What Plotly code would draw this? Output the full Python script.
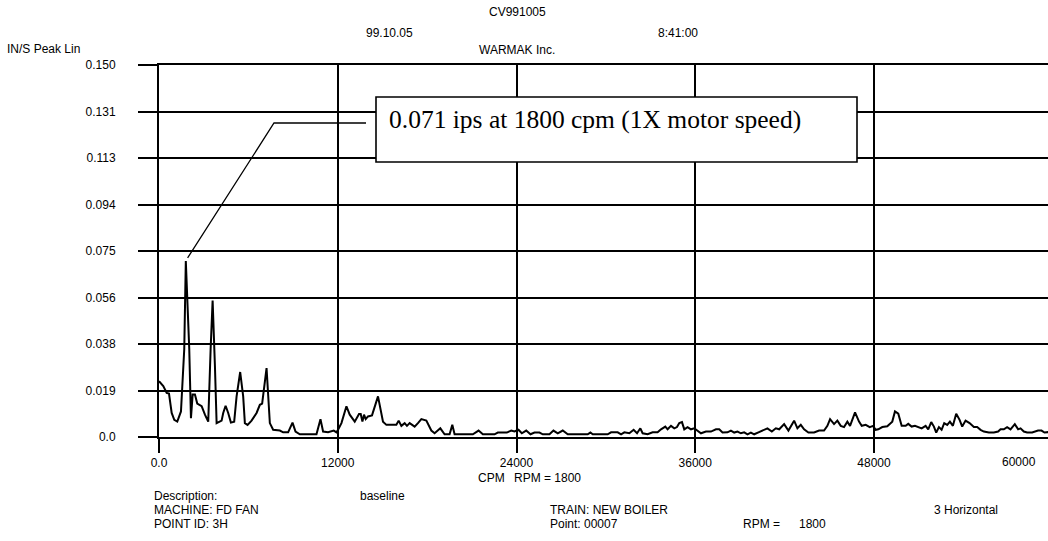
import plotly.graph_objects as go

# Spectrum: frequency (CPM) and velocity amplitude (IN/S peak)
cpm = [0, 288, 516, 670, 851, 1026, 1227, 1475, 1696, 1800, 2031, 2145, 2259, 2413, 2568,
       2863, 3084, 3305, 3466, 3600, 3754, 3868, 4203, 4311, 4471, 4646, 4827, 5048, 5209,
       5450, 5651, 5765, 5946, 6214, 6550, 6771, 6925, 7106, 7220, 7441, 7663, 8112, 8333,
       8668, 8963, 9164, 9453, 10572, 10840, 11015, 11350, 11732, 11913, 12020, 12248, 12583,
       12805, 13140, 13428, 13542, 13656, 13763, 13877, 14031, 14300, 14702, 14930, 15037,
       15265, 15935, 16090, 16271, 16492, 16646, 16827, 17162, 17384, 17612, 17947, 18282,
       18503, 18885, 19173, 19508, 19690, 19843, 20179, 21071, 21453, 21741, 22525, 22747,
       23350, 23645, 23866, 24134, 24356, 24651, 24939, 25207, 25542, 25764, 26213, 26481,
       26769, 27104, 27439, 28780, 28961, 29116, 30121, 30349, 30792, 31020, 31241, 31576,
       31864, 32092, 32314, 32468, 32803, 33138, 33474, 33702, 33990, 34144, 34372, 34593,
       34774, 34928, 35109, 35263, 35484, 35712, 35933, 36155, 36383, 36718, 37053, 37388,
       37609, 37831, 38166, 38394, 38615, 38836, 39064, 39285, 39507, 39735, 39956, 40244,
       40512, 40847, 41142, 41411, 41638, 41967, 42255, 42637, 42858, 43086, 43307, 43596,
       43978, 44313, 44648, 44870, 45051, 45319, 45540, 45768, 45989, 46211, 46392, 46727,
       46995, 47176, 47444, 47712, 47934, 48115, 48289, 48557, 48892, 49227, 49408, 49630,
       49857, 50126, 50300, 50528, 50749, 50970, 51198, 51466, 51641, 51842, 52023, 52177,
       52358, 52539, 52714, 52915, 53096, 53297, 53518, 53746, 53921, 54148, 54416, 54705,
       54926, 55154, 55375, 55710, 56045, 56334, 56495, 56716, 56937, 57165, 57453, 57675,
       57836, 58058, 58279, 58614, 58795, 59016, 59245, 59446, 59730]
amp = [0.0225, 0.0205, 0.0178, 0.0175, 0.0097, 0.0069, 0.0062, 0.0103, 0.0355, 0.0710, 0.0355,
       0.0076, 0.0171, 0.0171, 0.0135, 0.0124, 0.0090, 0.0062, 0.0355, 0.0550, 0.0287, 0.0056,
       0.0066, 0.0097, 0.0126, 0.0097, 0.0058, 0.0062, 0.0164, 0.0262, 0.0164, 0.0056, 0.0049,
       0.0066, 0.0097, 0.0130, 0.0135, 0.0212, 0.0278, 0.0056, 0.0029, 0.0026, 0.0019, 0.0019,
       0.0058, 0.0022, 0.0011, 0.0011, 0.0072, 0.0022, 0.0019, 0.0026, 0.0019, 0.0029, 0.0056,
       0.0124, 0.0090, 0.0062, 0.0093, 0.0093, 0.0062, 0.0090, 0.0072, 0.0083, 0.0087, 0.0164,
       0.0103, 0.0062, 0.0049, 0.0049, 0.0066, 0.0045, 0.0056, 0.0045, 0.0056, 0.0042, 0.0056,
       0.0072, 0.0066, 0.0026, 0.0015, 0.0035, 0.0011, 0.0011, 0.0049, 0.0011, 0.0011, 0.0011,
       0.0026, 0.0011, 0.0011, 0.0018, 0.0018, 0.0026, 0.0022, 0.0029, 0.0015, 0.0026, 0.0011,
       0.0018, 0.0018, 0.0011, 0.0011, 0.0026, 0.0015, 0.0026, 0.0011, 0.0011, 0.0018, 0.0011,
       0.0011, 0.0019, 0.0019, 0.0011, 0.0019, 0.0015, 0.0029, 0.0015, 0.0035, 0.0015, 0.0011,
       0.0019, 0.0019, 0.0031, 0.0042, 0.0031, 0.0045, 0.0035, 0.0040, 0.0056, 0.0060, 0.0031,
       0.0040, 0.0031, 0.0035, 0.0026, 0.0015, 0.0022, 0.0022, 0.0031, 0.0031, 0.0018, 0.0019,
       0.0026, 0.0018, 0.0022, 0.0015, 0.0019, 0.0011, 0.0018, 0.0011, 0.0019, 0.0026, 0.0035,
       0.0022, 0.0035, 0.0031, 0.0052, 0.0026, 0.0066, 0.0035, 0.0049, 0.0031, 0.0018, 0.0018,
       0.0026, 0.0026, 0.0045, 0.0072, 0.0052, 0.0066, 0.0045, 0.0040, 0.0062, 0.0045, 0.0099,
       0.0062, 0.0045, 0.0049, 0.0040, 0.0045, 0.0029, 0.0031, 0.0040, 0.0043, 0.0062, 0.0103,
       0.0094, 0.0045, 0.0045, 0.0053, 0.0042, 0.0045, 0.0040, 0.0035, 0.0045, 0.0031, 0.0060,
       0.0042, 0.0018, 0.0040, 0.0029, 0.0056, 0.0049, 0.0062, 0.0045, 0.0094, 0.0069, 0.0042,
       0.0066, 0.0056, 0.0040, 0.0040, 0.0029, 0.0022, 0.0018, 0.0018, 0.0022, 0.0031, 0.0031,
       0.0040, 0.0031, 0.0052, 0.0031, 0.0035, 0.0022, 0.0018, 0.0018, 0.0022, 0.0026, 0.0026,
       0.0018, 0.0020]

y_ticks = [0.0, 0.01875, 0.0375, 0.05625, 0.075, 0.09375, 0.1125, 0.13125, 0.15]
y_tick_labels = ["0.0", "0.019", "0.038", "0.056", "0.075", "0.094", "0.113", "0.131", "0.150"]
x_ticks = [0, 12000, 24000, 36000, 48000]
x_tick_labels = ["0.0", "12000", "24000", "36000", "48000"]

W, H = 1048, 541
ML, MR, MT, MB = 159, 0, 65, 104
PW, PH = W - ML - MR, H - MT - MB
X_PER_PX = 12000 / 178.75
X_MAX = PW * X_PER_PX

SANS = "Liberation Sans, Arial, sans-serif"
SERIF = "Liberation Serif, Times New Roman, serif"


def px(x):
    return (x - ML) / PW


def py(y):
    return (H - MB - y) / PH


fig = go.Figure()
fig.add_trace(go.Scatter(x=cpm, y=amp, mode="lines",
                         line=dict(color="black", width=2), hoverinfo="x+y"))

# header / footer text blocks (pixel placement)
texts = [
    ("CV991005", 517, 12, "center"),
    ("99.10.05", 389, 33, "center"),
    ("8:41:00", 678, 33, "center"),
    ("WARMAK Inc.", 517, 50, "center"),
    ("IN/S Peak Lin", 5, 49, "left"),
    ("60000", 1019, 462, "center"),
    ("CPM", 476, 478, "left"),
    ("RPM = 1800", 512, 478, "left"),
    ("Description:", 152, 496, "left"),
    ("baseline", 358, 496, "left"),
    ("MACHINE: FD FAN", 152, 510, "left"),
    ("TRAIN: NEW BOILER", 548, 510, "left"),
    ("3 Horizontal", 932, 510, "left"),
    ("POINT ID: 3H", 152, 524, "left"),
    ("Point: 00007", 548, 524, "left"),
    ("RPM =", 741, 524, "left"),
    ("1800", 797, 524, "left"),
]
annotations = []
for t, x, y, anchor in texts:
    annotations.append(dict(text=t, xref="paper", yref="paper", x=px(x), y=py(y),
                            xanchor=anchor, yanchor="middle", showarrow=False,
                            font=dict(family=SANS, size=12, color="black")))

# callout for the running-speed peak
i_peak = max(range(len(amp)), key=lambda i: amp[i])
peak_x, peak_y = cpm[i_peak], amp[i_peak]
annotations.append(dict(
    text=f"{peak_y:.3f} ips at {peak_x:.0f} cpm (1X motor speed)",
    xref="paper", yref="paper", x=px(387), y=py(119), xanchor="left", yanchor="middle",
    showarrow=False, font=dict(family=SERIF, size=25.5, color="black")))

elbow_x = (274 - ML) * X_PER_PX
start_x = (366 - ML) * X_PER_PX
line_y = (H - MB - 123) / PH * 0.15
shapes = [
    dict(type="rect", xref="paper", yref="paper", x0=px(376), x1=px(857),
         y0=py(162), y1=py(97), fillcolor="white", line=dict(color="black", width=1.6),
         layer="above"),
    dict(type="path", xref="x", yref="y",
         path=f"M {start_x},{line_y} L {elbow_x},{line_y} L {peak_x + 120},{peak_y + 0.0012}",
         line=dict(color="black", width=1.3)),
]

fig.update_layout(
    width=W, height=H, margin=dict(l=ML, r=MR, t=MT, b=MB, pad=0),
    paper_bgcolor="white", plot_bgcolor="white", showlegend=False,
    annotations=annotations, shapes=shapes,
    xaxis=dict(range=[0, X_MAX], tickvals=x_ticks, ticktext=x_tick_labels,
               showgrid=True, gridcolor="black", gridwidth=2,
               zeroline=False, showline=True, linecolor="black", linewidth=2,
               mirror=True,
               ticks="outside", ticklen=14, tickwidth=2, tickcolor="black",
               tickfont=dict(family=SANS, size=12, color="black")),
    yaxis=dict(range=[0, 0.15], tickvals=y_ticks, ticktext=y_tick_labels,
               showgrid=True, gridcolor="black", gridwidth=2,
               zeroline=False, showline=True, linecolor="black", linewidth=2,
               mirror=False,
               ticks="outside", ticklen=19, tickwidth=2, tickcolor="black",
               ticklabelstandoff=20,
               tickfont=dict(family=SANS, size=12, color="black")),
)

fig.write_html("out.html")
